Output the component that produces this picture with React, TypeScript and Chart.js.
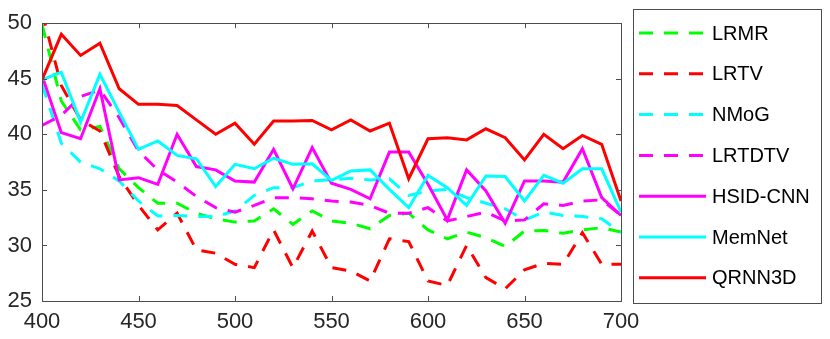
import { useEffect, useRef } from 'react';
import { Chart, registerables } from 'chart.js';

Chart.register(...registerables);

const wavelengths = [400, 410, 420, 430, 440, 450, 460, 470, 480, 490, 500, 510, 520, 530, 540, 550, 560, 570, 580, 590, 600, 610, 620, 630, 640, 650, 660, 670, 680, 690, 700];

const lrmr = [49.9, 43.0, 40.4, 40.7, 36.9, 35.2, 33.8, 33.8, 32.9, 32.4, 32.1, 32.2, 33.3, 31.9, 33.1, 32.2, 32.0, 31.5, 32.7, 32.9, 31.4, 30.6, 31.2, 30.7, 29.9, 31.3, 31.35, 31.1, 31.4, 31.6, 31.2];
const lrtv = [51.0, 44.4, 41.3, 40.3, 36.2, 33.6, 31.4, 32.9, 29.6, 29.3, 28.3, 28.0, 31.4, 28.0, 31.3, 28.0, 27.7, 26.8, 30.6, 30.35, 26.8, 26.4, 30.0, 27.1, 26.1, 27.8, 28.4, 28.3, 31.15, 28.3, 28.3];
const nmog = [44.5, 39.2, 37.5, 36.9, 35.8, 34.0, 32.65, 32.7, 32.6, 32.6, 33.1, 34.5, 35.2, 35.2, 35.8, 35.9, 36.05, 35.9, 36.0, 34.5, 34.9, 35.05, 34.3, 33.8, 33.3, 32.3, 33.0, 32.7, 32.6, 32.4, 31.15];
const lrtdtv = [40.8, 41.7, 43.4, 44.0, 41.5, 38.5, 36.8, 35.7, 34.4, 33.4, 33.0, 33.6, 34.3, 34.3, 34.2, 34.0, 33.9, 33.6, 32.9, 32.9, 33.4, 32.2, 32.6, 33.0, 32.2, 32.3, 33.75, 33.6, 34.0, 34.1, 32.7];
const hsidCnn = [45.3, 40.15, 39.6, 44.1, 35.9, 36.1, 35.5, 40.0, 37.1, 36.8, 35.8, 35.7, 38.65, 35.1, 38.8, 35.6, 35.05, 34.2, 38.4, 38.4, 35.5, 32.3, 36.8, 34.9, 32.0, 35.8, 35.8, 35.7, 38.7, 34.3, 32.7];
const memNet = [44.9, 45.6, 41.1, 45.4, 42.0, 38.65, 39.4, 38.1, 37.8, 35.3, 37.3, 36.9, 37.85, 37.3, 37.35, 35.85, 36.7, 36.8, 35.05, 33.4, 36.3, 35.2, 33.6, 36.25, 36.2, 34.0, 36.3, 35.6, 36.9, 36.9, 33.0];
const qrnn3d = [44.9, 49.0, 47.1, 48.2, 44.1, 42.7, 42.7, 42.6, 41.3, 40.0, 41.0, 39.1, 41.2, 41.2, 41.25, 40.4, 41.3, 40.3, 41.0, 36.0, 39.6, 39.7, 39.5, 40.5, 39.7, 37.7, 40.0, 38.7, 39.9, 39.1, 34.0];

const seriesNames = ['LRMR', 'LRTV', 'NMoG', 'LRTDTV', 'HSID-CNN', 'MemNet', 'QRNN3D'];
const seriesValues = [lrmr, lrtv, nmog, lrtdtv, hsidCnn, memNet, qrnn3d];
const seriesColors = ['#00ff00', '#ff0000', '#00ffff', '#ff00ff', '#ff00ff', '#00ffff', '#ff0000'];
const seriesDashed = [true, true, true, true, false, false, false];

const xTicks = [400, 450, 500, 550, 600, 650, 700];
const yTicks = [25, 30, 35, 40, 45, 50];

const DASH = [14, 11];
const FONT = '"Liberation Sans", Arial, Helvetica, sans-serif';

const framePlugin = {
  id: 'matlabFrame',
  afterDraw(chart: any) {
    const { ctx, chartArea, scales } = chart;
    const { left, right, top, bottom } = chartArea;
    const xs = scales.x;
    const ys = scales.y;
    ctx.save();
    ctx.strokeStyle = '#4d4d4d';
    ctx.lineWidth = 1;
    ctx.setLineDash([]);
    ctx.strokeRect(Math.round(left) + 0.5, Math.round(top) + 0.5, Math.round(right - left), Math.round(bottom - top));
    const tl = 5;
    ctx.beginPath();
    for (const v of xTicks) {
      const px = Math.round(xs.getPixelForValue(v)) + 0.5;
      ctx.moveTo(px, bottom);
      ctx.lineTo(px, bottom - tl);
      ctx.moveTo(px, top);
      ctx.lineTo(px, top + tl);
    }
    for (const v of yTicks) {
      const py = Math.round(ys.getPixelForValue(v)) + 0.5;
      ctx.moveTo(left, py);
      ctx.lineTo(left + tl, py);
      ctx.moveTo(right, py);
      ctx.lineTo(right - tl, py);
    }
    ctx.stroke();

    // legend
    const lx = 633, ly = 9, lw = 188, lh = 294;
    ctx.fillStyle = '#ffffff';
    ctx.fillRect(lx, ly, lw, lh);
    ctx.strokeStyle = '#4d4d4d';
    ctx.strokeRect(lx + 0.5, ly + 0.5, lw, lh);
    ctx.font = `20px ${FONT}`;
    ctx.textBaseline = 'middle';
    ctx.textAlign = 'left';
    chart.data.datasets.forEach((ds: any, i: number) => {
      const cy = 33 + i * 40.8;
      ctx.strokeStyle = ds.borderColor;
      ctx.lineWidth = 3;
      ctx.setLineDash(ds.borderDash || []);
      ctx.beginPath();
      ctx.moveTo(639, cy);
      ctx.lineTo(706, cy);
      ctx.stroke();
      ctx.setLineDash([]);
      ctx.fillStyle = '#000000';
      ctx.fillText(ds.label, 712, cy + 1);
    });
    ctx.restore();
  },
};

export default function App() {
  const ref = useRef<HTMLCanvasElement | null>(null);
  useEffect(() => {
    document.body.style.margin = '0';
    const canvas = ref.current;
    if (!canvas) return;
    const datasets = seriesNames.map((name, i) => ({
      label: name,
      data: wavelengths.map((w, j) => ({ x: w, y: seriesValues[i][j] })),
      borderColor: seriesColors[i],
      backgroundColor: seriesColors[i],
      borderWidth: 3,
      borderDash: seriesDashed[i] ? DASH : [],
      pointRadius: 0,
      tension: 0,
      fill: false,
      order: seriesNames.length - i,
    }));
    const chart = new Chart(canvas, {
      type: 'line',
      data: { datasets },
      options: {
        animation: false,
        responsive: false,
        maintainAspectRatio: false,
        layout: { padding: { top: 12, right: 209, left: 0, bottom: 0 } },
        plugins: { legend: { display: false }, tooltip: { enabled: false } },
        scales: {
          x: {
            type: 'linear',
            min: 400,
            max: 700,
            afterBuildTicks: (scale: any) => {
              scale.ticks = xTicks.map((v) => ({ value: v }));
            },
            afterFit: (scale: any) => {
              scale.height = 38;
            },
            grid: { display: false, drawTicks: false },
            border: { display: false },
            ticks: {
              color: '#262626',
              font: { family: FONT, size: 22 },
              padding: 8,
              maxRotation: 0,
              autoSkip: false,
            },
          },
          y: {
            type: 'linear',
            min: 25,
            max: 50,
            afterBuildTicks: (scale: any) => {
              scale.ticks = yTicks.map((v) => ({ value: v }));
            },
            afterFit: (scale: any) => {
              scale.width = 42;
            },
            grid: { display: false, drawTicks: false },
            border: { display: false },
            ticks: {
              color: '#262626',
              font: { family: FONT, size: 22 },
              padding: 10,
              autoSkip: false,
            },
          },
        },
      },
      plugins: [framePlugin],
    } as any);
    return () => chart.destroy();
  }, []);
  return (
    <div style={{ width: 830, height: 339, background: '#fff' }}>
      <canvas ref={ref} width={830} height={339} style={{ display: 'block' }} />
    </div>
  );
}
